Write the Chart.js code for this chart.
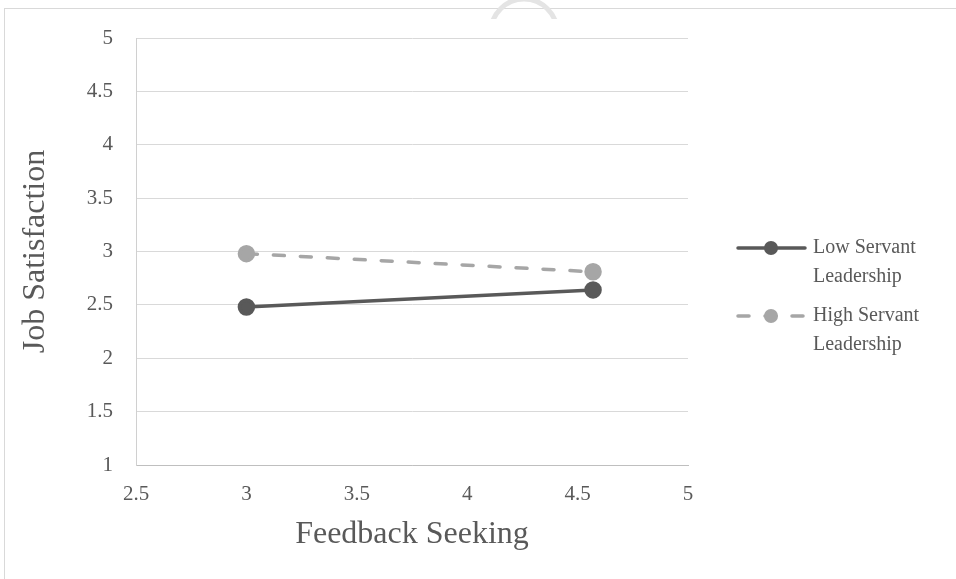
<!DOCTYPE html>
<html><head><meta charset="utf-8">
<script src="https://cdn.jsdelivr.net/npm/chart.js@4/dist/chart.umd.min.js"></script>
<style>html,body{margin:0;padding:0;background:#fff;overflow:hidden}#wrap{width:956px;height:579px;position:relative}</style>
</head><body><div id="wrap"><canvas id="c" width="956" height="579"></canvas></div>
<script>
const xValues = [3, 4.57];
const lowServant = [2.48, 2.64];
const highServant = [2.98, 2.81];
const seriesLabels = ["Low Servant Leadership", "High Servant Leadership"];
const xTitle = "Feedback Seeking";
const yTitle = "Job Satisfaction";
const xRange = [2.5, 5];
const yRange = [1, 5];
const tickStep = 0.5;

const FONT = '"Liberation Serif", "Times New Roman", serif';
const TXT = '#595959';

function pts(vals){ return xValues.map((x,i)=>({x:x, y:vals[i]})); }

const framePlugin = {
  id: 'frame',
  beforeDraw(chart){
    const ctx = chart.ctx;
    ctx.save();
    ctx.fillStyle = '#fff';
    ctx.fillRect(0,0,chart.width,chart.height);
    ctx.strokeStyle = '#d9d9d9';
    ctx.lineWidth = 1;
    ctx.strokeRect(4.5, 8.5, 1200, 1200);
    ctx.restore();
  },
  afterDraw(chart){
    const ctx = chart.ctx;
    // faint watermark fragment at top
    ctx.save();
    ctx.beginPath(); ctx.rect(0,0,chart.width,19); ctx.clip();
    ctx.strokeStyle = '#e4e4e4';
    ctx.lineWidth = 5;
    ctx.beginPath(); ctx.arc(524, 32, 33, Math.PI, 2*Math.PI); ctx.stroke();
    ctx.restore();
  }
};

const legendPlugin = {
  id: 'sideLegend',
  afterDraw(chart){
    const ctx = chart.ctx;
    ctx.save();
    chart.data.datasets.forEach((ds, i) => {
      const y0 = 248 + i*68;
      ctx.strokeStyle = ds.borderColor;
      ctx.lineWidth = ds.borderWidth;
      ctx.lineCap = 'round';
      ctx.setLineDash(ds.borderDash || []);
      ctx.beginPath(); ctx.moveTo(738, y0); ctx.lineTo(805, y0); ctx.stroke();
      ctx.setLineDash([]);
      ctx.fillStyle = ds.pointBackgroundColor;
      ctx.beginPath(); ctx.arc(771, y0, ds.pointRadius, 0, 2*Math.PI); ctx.fill();
      ctx.fillStyle = TXT;
      ctx.font = '20px ' + FONT;
      ctx.textBaseline = 'middle';
      ctx.textAlign = 'left';
      const words = ds.label.split(' ');
      const lines = [words.slice(0, words.length-1).join(' '), words[words.length-1]];
      lines.forEach((t, j) => ctx.fillText(t, 813, y0 + j*29));
    });
    ctx.restore();
  }
};

new Chart(document.getElementById('c'), {
  type: 'line',
  data: {
    datasets: [
      { label: seriesLabels[0], data: pts(lowServant), borderColor: '#595959', backgroundColor: '#595959',
        pointBackgroundColor: '#595959', pointBorderColor: '#595959', borderWidth: 3.5, pointRadius: 7,
        pointHoverRadius: 7, showLine: true, fill: false, tension: 0 },
      { label: seriesLabels[1], data: pts(highServant), borderColor: '#a6a6a6', backgroundColor: '#a6a6a6',
        pointBackgroundColor: '#a6a6a6', pointBorderColor: '#a6a6a6', borderWidth: 3.5, pointRadius: 7,
        pointHoverRadius: 7, borderDash: [11, 16], borderCapStyle: 'round', showLine: true, fill: false, tension: 0 }
    ]
  },
  options: {
    responsive: false,
    animation: false,
    devicePixelRatio: 1,
    layout: { padding: { top: 38, right: 268, left: 0, bottom: 0 } },
    plugins: { legend: { display: false }, tooltip: { enabled: false } },
    scales: {
      x: {
        type: 'linear', min: xRange[0], max: xRange[1],
        ticks: { stepSize: tickStep, color: TXT, font: { family: FONT, size: 21 }, padding: 17,
          callback: v => String(v) },
        grid: { display: false, drawTicks: false },
        border: { display: true, color: '#bfbfbf', width: 1 },
        title: { display: true, text: xTitle, color: TXT, font: { family: FONT, size: 32 },
          padding: { top: 0, bottom: 25 } },
        afterFit: s => { s.height = 114; }
      },
      y: {
        type: 'linear', min: yRange[0], max: yRange[1],
        ticks: { stepSize: tickStep, color: TXT, font: { family: FONT, size: 21 }, padding: 23,
          callback: v => String(v) },
        grid: { color: '#d9d9d9', lineWidth: 1, drawTicks: false },
        border: { display: true, color: '#d0d0d0', width: 1 },
        title: { display: true, text: yTitle, color: TXT, font: { family: FONT, size: 32 },
          padding: { top: 16, bottom: 0 } },
        afterFit: s => { s.width = 136; }
      }
    }
  },
  plugins: [framePlugin, legendPlugin]
});
</script></body></html>
